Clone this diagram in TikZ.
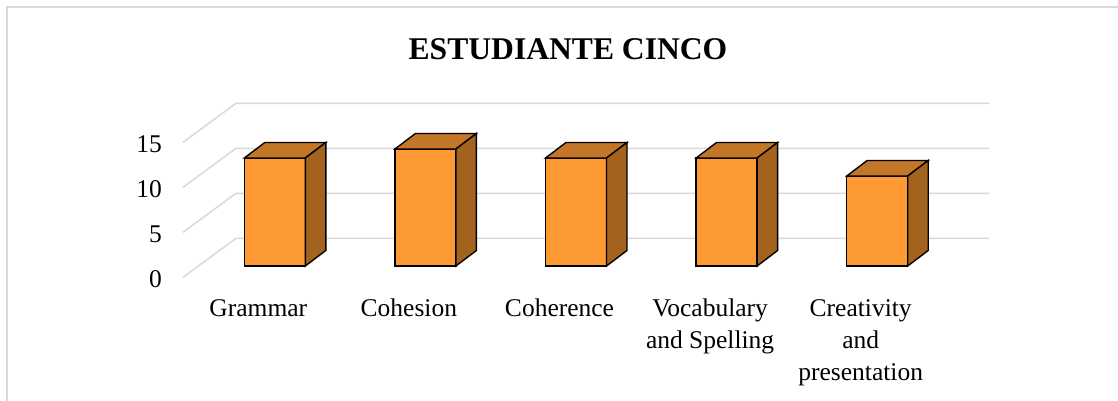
\documentclass[tikz,border=0pt]{standalone}
\usepackage{fontspec}
\setmainfont{Liberation Serif}
\definecolor{barfront}{HTML}{FD9A33}
\definecolor{bartop}{HTML}{C47628}
\definecolor{barside}{HTML}{A3631F}
\definecolor{gridgray}{HTML}{D9D9D9}
\begin{document}
\begin{tikzpicture}[x=1pt,y=-1pt,
  gridline/.style={draw=gridgray, line width=1.5pt},
  frameline/.style={draw=gridgray, line width=1.5pt},
  barface/.style={draw=black, line width=1.4pt, line join=miter},
  axlab/.style={anchor=east, inner sep=0pt, font=\fontsize{25.5}{30}\selectfont},
  catlab/.style={anchor=north, inner sep=0pt, align=center, font=\fontsize{25.5}{32}\selectfont},
  titlelab/.style={anchor=base, inner sep=0pt, font=\fontsize{31.6}{36}\selectfont\bfseries}]
\useasboundingbox (0,0) rectangle (1118,401);
\fill[white] (0,0) rectangle (1118,401);
% frame
\draw[frameline] (7,401) -- (7,7) -- (1118,7);
% title
\node[titlelab] (title) at (568,59.5) {ESTUDIANTE CINCO};
% grid and axis labels
\foreach \v/\yb in {0/238.3,5/193.3,10/148.3,15/103.3}{
  \draw[gridline] (183,{\yb+39}) -- (236,\yb) -- (989,\yb);
  \node[axlab] (ax\v) at (162,{\yb+41}) {\v};
}
% bars
\foreach \i/\v in {0/12,1/13,2/12,3/12,4/10}{
  \pgfmathsetmacro\xl{244.3+150.6*\i}
  \pgfmathsetmacro\xr{\xl+61}
  \pgfmathsetmacro\yt{266-9*\v}
  \pgfmathsetmacro\hh{9*\v}
  \filldraw[barface, fill=barfront] (\xl,266) rectangle (\xr,\yt);
  \filldraw[barface, fill=bartop] (\xl,\yt) -- ++(20.5,-15.5) -- ++(61,0) -- (\xr,\yt) -- cycle;
  \filldraw[barface, fill=barside] (\xr,266) -- (\xr,\yt) -- ++(20.5,-15.5) -- ++(0,\hh) -- cycle;
}
% category labels
\node[catlab] (c1) at (258.3,294.1) {\strut Grammar};
\node[catlab] (c2) at (408.9,294.1) {\strut Cohesion};
\node[catlab] (c3) at (559.5,294.1) {\strut Coherence};
\node[catlab] (c4) at (710.1,294.1) {\strut Vocabulary\\and Spelling};
\node[catlab] (c5) at (860.7,294.1) {\strut Creativity\\and\\presentation};
\end{tikzpicture}
\end{document}
